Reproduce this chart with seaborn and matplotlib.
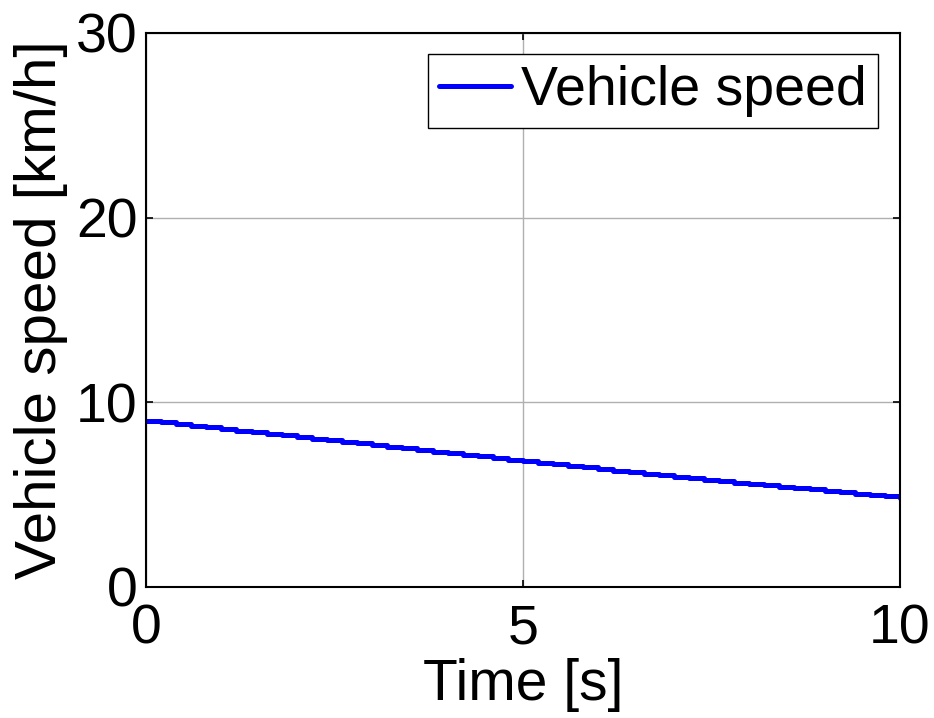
import matplotlib
matplotlib.use("Agg")
import matplotlib.pyplot as plt
import seaborn as sns
import pandas as pd

# Vehicle speed log, sampled every 0.2 s
time_s = [0.0, 0.2, 0.4, 0.6, 0.8, 1.0, 1.2, 1.4, 1.6, 1.8,
          2.0, 2.2, 2.4, 2.6, 2.8, 3.0, 3.2, 3.4, 3.6, 3.8,
          4.0, 4.2, 4.4, 4.6, 4.8, 5.0, 5.2, 5.4, 5.6, 5.8,
          6.0, 6.2, 6.4, 6.6, 6.8, 7.0, 7.2, 7.4, 7.6, 7.8,
          8.0, 8.2, 8.4, 8.6, 8.8, 9.0, 9.2, 9.4, 9.6, 9.8, 10.0]
speed_kmh = [9.00, 8.91, 8.82, 8.74, 8.65, 8.56, 8.47, 8.38, 8.30, 8.21,
             8.12, 8.03, 7.94, 7.86, 7.77, 7.68, 7.59, 7.51, 7.42, 7.33,
             7.25, 7.16, 7.07, 6.99, 6.90, 6.81, 6.73, 6.64, 6.56, 6.47,
             6.39, 6.30, 6.22, 6.13, 6.05, 5.96, 5.88, 5.79, 5.72, 5.65,
             5.57, 5.50, 5.43, 5.35, 5.28, 5.21, 5.13, 5.06, 4.99, 4.91, 4.84]

x_ticks = [0, 5, 10]
y_ticks = [0, 10, 20, 30]
series_name = "Vehicle speed"

sns.set_style("ticks")
plt.rcParams["font.family"] = ["Liberation Sans", "DejaVu Sans"]
plt.rcParams["text.color"] = "black"
plt.rcParams["axes.labelcolor"] = "black"
plt.rcParams["xtick.color"] = "black"
plt.rcParams["ytick.color"] = "black"

df = pd.DataFrame({"Time": time_s, "Speed": speed_kmh})

fig = plt.figure(figsize=(9.34, 7.18), dpi=100)
ax = fig.add_axes([0.1563, 0.1825, 0.8073, 0.7716])

sns.lineplot(data=df, x="Time", y="Speed", ax=ax, color="#0000ff",
             linewidth=3.6, drawstyle="steps-post", label=series_name)

ax.set_xlim(0, 10)
ax.set_ylim(0, 30)
ax.set_xticks(x_ticks)
ax.set_yticks(y_ticks)

tick_font = {"family": ["Liberation Sans Narrow", "Liberation Sans", "DejaVu Sans"],
             "size": 40}
ax.set_xticklabels([str(v) for v in x_ticks], fontdict=tick_font)
ax.set_yticklabels([str(v) for v in y_ticks], fontdict=tick_font)

ax.grid(True, color="#b0b0b0", linewidth=1.0)
ax.set_axisbelow(True)
ax.tick_params(direction="in", length=5, width=1.2, top=True, right=True,
               colors="black", labelcolor="black")
ax.tick_params(axis="x", pad=12)
ax.tick_params(axis="y", pad=6)
for sp in ax.spines.values():
    sp.set_visible(True)
    sp.set_color("black")
    sp.set_linewidth(1.5)

ax.set_xlabel("Time [s]", fontsize=41, labelpad=2, color="black")
ax.set_ylabel("Vehicle speed [km/h]", fontsize=42, labelpad=6, color="black")

leg = ax.legend(loc="upper right", bbox_to_anchor=(0.971, 0.962),
                borderaxespad=0, fontsize=40, frameon=True, fancybox=False,
                shadow=False, handlelength=1.3, handletextpad=0.18,
                borderpad=0.2)
for t in leg.get_texts():
    t.set_color("black")
leg.get_frame().set_edgecolor("black")
leg.get_frame().set_linewidth(1.0)
leg.get_frame().set_facecolor("white")
leg.get_frame().set_alpha(1.0)

fig.savefig("out.png", dpi=100, facecolor="white")
